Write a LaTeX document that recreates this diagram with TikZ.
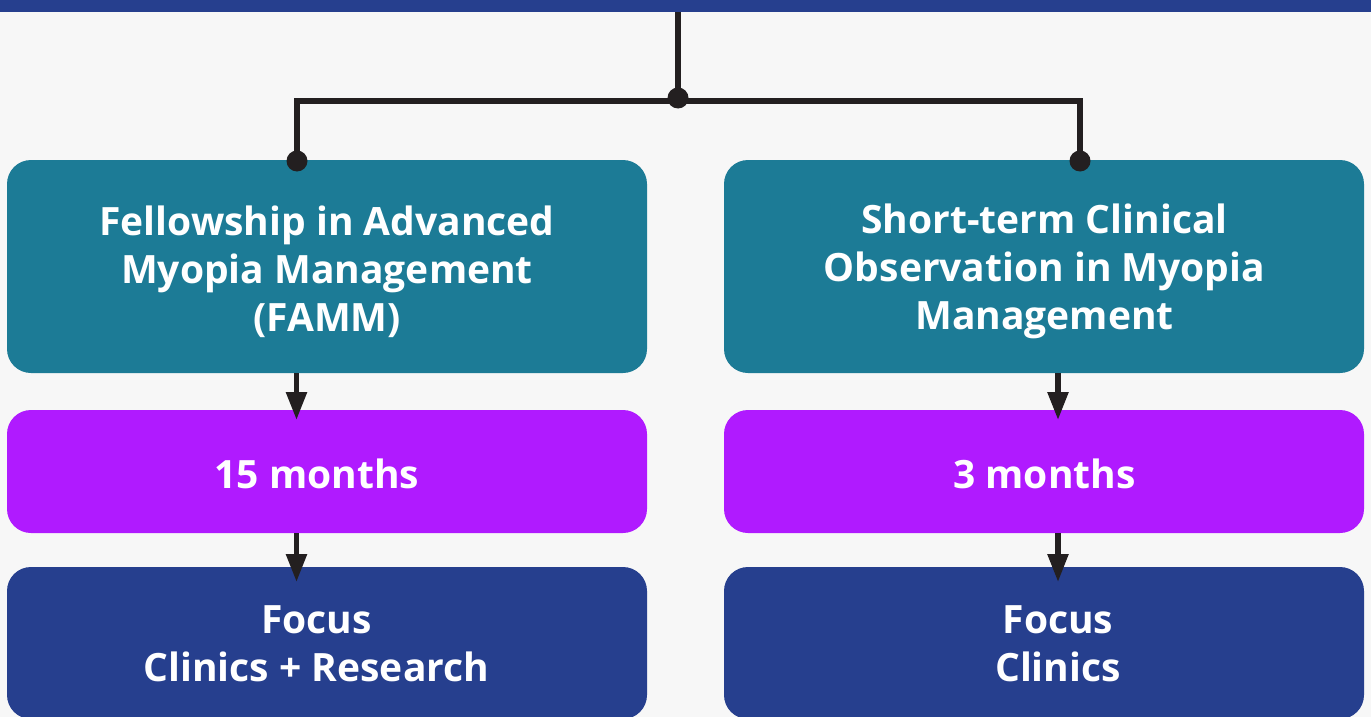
\documentclass[tikz,border=0pt]{standalone}
\usepackage{fontspec}
\setmainfont{Open Sans}
\usepackage{tikz}
\usetikzlibrary{arrows.meta,positioning,calc}

\definecolor{pagebg}{HTML}{F7F7F7}
\definecolor{navy}{HTML}{263F8E}
\definecolor{tealc}{HTML}{1C7B96}
\definecolor{violet}{HTML}{B01AFF}
\definecolor{ink}{HTML}{231F20}

\begin{document}
\begin{tikzpicture}[x=1pt,y=-1pt,
    every node/.style={inner sep=0pt,outer sep=0pt},
    card/.style={rectangle,rounded corners=24pt,minimum width=640pt},
    tealcard/.style={card,fill=tealc,minimum height=213pt},
    timecard/.style={card,fill=violet,minimum height=123pt},
    focuscard/.style={card,fill=navy,minimum height=152pt},
    txt/.style={text=white,align=center,font=\fontsize{39}{48}\selectfont\bfseries},
    link/.style={draw=ink,line width=5.5pt},
    flow/.style={draw=ink,line width=5.5pt,-{Triangle[width=20pt,length=28pt]}}]
                \useasboundingbox (0,0) rectangle (1371,717);
                \fill[pagebg] (0,0) rectangle (1371,717);
                \node[fill=navy,minimum width=1371pt,minimum height=12.5pt,anchor=north west] (header) at (0,0) {};
                % cards
                \node[tealcard] (famm) at (327,266.5) {};
                \node[tealcard] (obs) at (1044,266.5) {};
                \node[timecard] (famm-dur) at (327,471.5) {};
                \node[timecard] (obs-dur) at (1044,471.5) {};
                \node[focuscard] (famm-foc) at (327,643) {};
                \node[focuscard] (obs-foc) at (1044,643) {};
                % texts
                \node[txt] (famm-t) at (327,271.5) {Fellowship in Advanced\\Myopia Management\\(FAMM)};
                \node[txt] (obs-t) at (1044.5,271.5) {Short-term Clinical\\Observation in Myopia\\Management};
                \node[txt] (famm-dur-t) at (317,474) {15 months};
                \node[txt] (obs-dur-t) at (1044.5,474) {3 months};
                \node[txt] (famm-foc-t) at (316.5,644) {Focus\\Clinics + Research};
                \node[txt] (obs-foc-t) at (1058,644) {Focus\\Clinics};
                % connectors
                \coordinate (hub) at (678,98);
                \coordinate (lx) at (297,101);
                \coordinate (rx) at (1080,101);
                \coordinate (lfx) at (296.5,0);
                \coordinate (rfx) at (1058,0);
                \draw[link] (header.south -| hub) -- (hub);
                \draw[link] ([yshift=-1pt]famm.north -| lx) -- (lx) -- (rx) -- ([yshift=-1pt]obs.north -| rx);
                \fill[ink] (hub) circle (10.5pt);
                \fill[ink] ([yshift=-1pt]famm.north -| lx) circle (10.5pt);
                \fill[ink] ([yshift=-1pt]obs.north -| rx) circle (10.5pt);
                \draw[flow] (famm.south -| lfx) -- ([yshift=-10pt]famm-dur.north -| lfx);
                \draw[flow] (famm-dur.south -| lfx) -- ([yshift=-15pt]famm-foc.north -| lfx);
                \draw[flow] (obs.south -| rfx) -- ([yshift=-10pt]obs-dur.north -| rfx);
                \draw[flow] (obs-dur.south -| rfx) -- ([yshift=-15pt]obs-foc.north -| rfx);
\end{tikzpicture}
\end{document}
